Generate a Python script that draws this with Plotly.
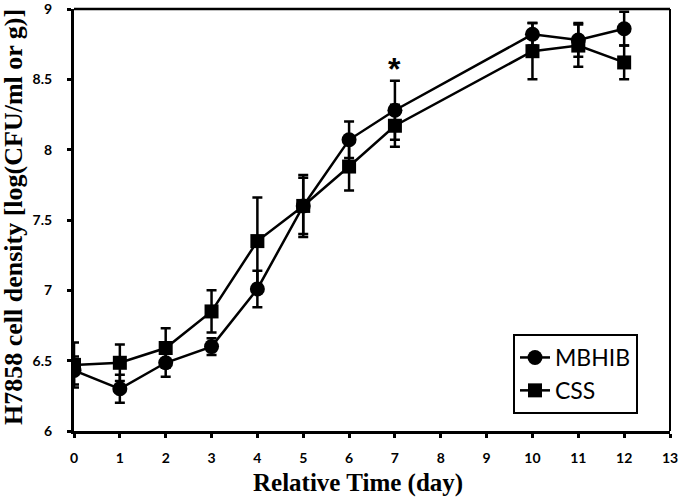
import plotly.graph_objects as go

days = [0, 1, 2, 3, 4, 5, 6, 7, 10, 11, 12]
mbhib = [6.43, 6.30, 6.485, 6.60, 7.01, 7.60, 8.07, 8.28, 8.82, 8.78, 8.86]
mbhib_err = [0.10, 0.10, 0.10, 0.06, 0.13, 0.20, 0.13, 0.21, 0.08, 0.12, 0.12]
css = [6.47, 6.485, 6.59, 6.85, 7.35, 7.60, 7.88, 8.17, 8.70, 8.74, 8.62]
css_err = [0.16, 0.13, 0.14, 0.15, 0.31, 0.22, 0.17, 0.15, 0.20, 0.15, 0.12]
x_ticks = list(range(0, 14))
y_ticks = [6, 6.5, 7, 7.5, 8, 8.5, 9]
y_ticklabels = ["6", "6.5", "7", "7.5", "8", "8.5", "9"]

L, R, T, B = 74, 10, 9, 66
W, H = 680, 497
pw, ph = W - L - R, H - T - B

fig = go.Figure()
fig.add_trace(go.Scatter(
    x=days, y=mbhib, name="MBHIB", mode="lines+markers", legendgroup="a",
    line=dict(color="black", width=2.5),
    marker=dict(symbol="circle", size=15, color="black"),
    error_y=dict(type="data", array=mbhib_err, visible=True, color="black", thickness=2.5, width=5),
))
fig.add_trace(go.Scatter(
    x=days, y=css, name="CSS", mode="lines+markers", legendgroup="b",
    line=dict(color="black", width=2.5),
    marker=dict(symbol="square", size=14, color="black"),
    error_y=dict(type="data", array=css_err, visible=True, color="black", thickness=2.5, width=5),
))

fig.add_annotation(x=7, y=8.57, text="<b>*</b>", showarrow=False, yanchor="middle",
                   font=dict(family="Liberation Sans", size=32, color="black"))

# axis titles
fig.add_annotation(xref="paper", yref="paper", x=(358 - L) / pw, y=-(483 - (H - B)) / ph,
                   xanchor="center", yanchor="middle", showarrow=False,
                   text="<b>Relative Time (day)</b>",
                   font=dict(family="Liberation Serif", size=25, color="black"))
fig.add_annotation(xref="paper", yref="paper", x=-(L - 13) / pw, y=((H - B) - 217) / ph,
                   xanchor="center", yanchor="middle", showarrow=False, textangle=-90,
                   text="<b>H7858 cell density [log(CFU/ml or g)]</b>",
                   font=dict(family="Liberation Serif", size=26, color="black"))

# top and right frame lines
fig.add_shape(type="line", xref="paper", yref="paper", x0=0, x1=1, y0=1, y1=1,
              line=dict(color="black", width=2.5))
fig.add_shape(type="line", xref="paper", yref="paper", x0=1, x1=1, y0=0, y1=1,
              line=dict(color="black", width=2))

fig.update_layout(
    width=W, height=H,
    margin=dict(l=L, r=R, t=T, b=B, autoexpand=False),
    plot_bgcolor="white", paper_bgcolor="white",
    showlegend=True,
    legend=dict(x=(513 - L) / pw, y=((H - B) - 334) / ph, xanchor="left", yanchor="top",
                bgcolor="white", bordercolor="black", borderwidth=2,
                font=dict(family="Lato", size=23, color="black"),
                tracegroupgap=0, itemwidth=30),
    xaxis=dict(
        range=[0, 13], tickmode="array", tickvals=x_ticks,
        ticks="outside", ticklen=4, tickwidth=2.5, tickcolor="black",
        showline=True, linecolor="black", linewidth=3, showgrid=False, zeroline=False,
        ticklabeloverflow="allow", automargin=False, ticklabelstandoff=8,
        tickfont=dict(family="Lato", size=14, color="black", weight="bold"),
    ),
    yaxis=dict(
        range=[6, 9], tickmode="array", tickvals=y_ticks, ticktext=y_ticklabels,
        ticks="outside", ticklen=4, tickwidth=2.5, tickcolor="black",
        showline=True, linecolor="black", linewidth=3, showgrid=False, zeroline=False,
        ticklabeloverflow="allow", automargin=False, ticklabelstandoff=12,
        tickfont=dict(family="Lato", size=14, color="black", weight="bold"),
    ),
)

fig.write_html("out.html", config={"displayModeBar": False},
               post_script="document.body.style.margin='0';")
